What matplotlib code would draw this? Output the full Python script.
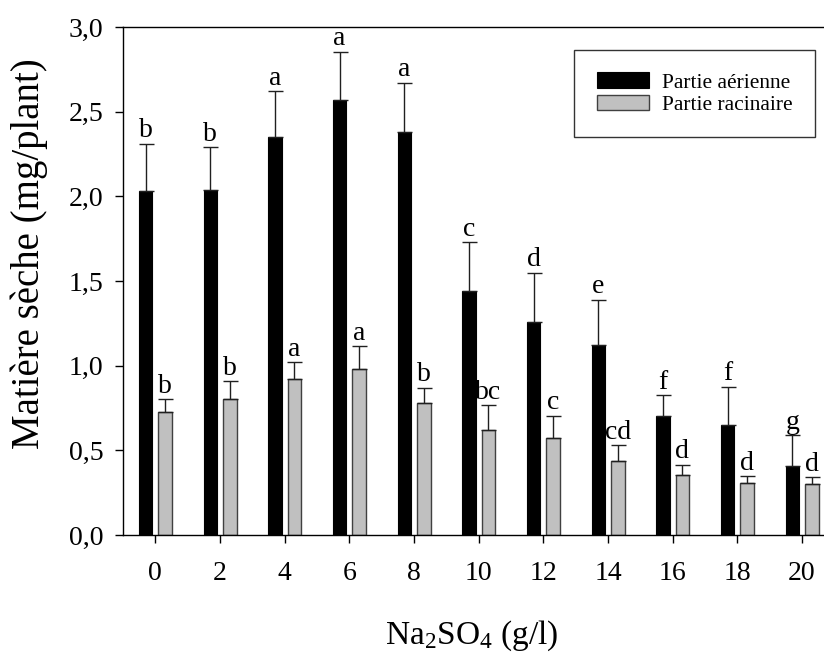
import matplotlib
matplotlib.use('Agg')
import matplotlib.pyplot as plt
import numpy as np

# Na2SO4 concentration (g/l)
conc = [0, 2, 4, 6, 8, 10, 12, 14, 16, 18, 20]

# dry matter (mg/plant), mean and upper error
aerienne = [2.03, 2.04, 2.35, 2.57, 2.38, 1.44, 1.26, 1.12, 0.70, 0.65, 0.41]
aerienne_err = [0.28, 0.25, 0.27, 0.285, 0.29, 0.29, 0.29, 0.27, 0.125, 0.225, 0.18]
racinaire = [0.725, 0.805, 0.92, 0.98, 0.78, 0.62, 0.575, 0.435, 0.355, 0.31, 0.30]
racinaire_err = [0.078, 0.105, 0.10, 0.135, 0.09, 0.145, 0.13, 0.097, 0.06, 0.036, 0.041]

# significance letters
lettres_aer = ['b', 'b', 'a', 'a', 'a', 'c', 'd', 'e', 'f', 'f', 'g']
lettres_rac = ['b', 'b', 'a', 'a', 'b', 'bc', 'c', 'cd', 'd', 'd', 'd']

plt.rcParams['font.family'] = ['Liberation Serif', 'DejaVu Serif']
plt.rcParams['mathtext.fontset'] = 'custom'
plt.rcParams['mathtext.rm'] = 'Liberation Serif'
plt.rcParams['mathtext.it'] = 'Liberation Serif:italic'

fig = plt.figure(figsize=(8.24, 6.52), dpi=100)
ax = fig.add_axes([0.1493, 0.1794, 0.8507, 0.7792])

x = np.array(conc, dtype=float)
w = 0.42
off = 0.30

ax.bar(x - off, aerienne, width=w, color='black', edgecolor='black',
       linewidth=0.8, label='Partie aérienne', zorder=2)
ax.bar(x + off, racinaire, width=w, color='#c0c0c0', edgecolor='#404040',
       linewidth=1.0, label='Partie racinaire', zorder=2)

# upper error bars only
ax.errorbar(x - off, aerienne, yerr=[np.zeros(len(x)), aerienne_err],
            fmt='none', ecolor='#202020', elinewidth=1.0, capsize=5.4,
            capthick=1.0, zorder=3)
ax.errorbar(x + off, racinaire, yerr=[np.zeros(len(x)), racinaire_err],
            fmt='none', ecolor='#202020', elinewidth=1.0, capsize=5.4,
            capthick=1.0, zorder=3)

for xi, m, e, l in zip(x, aerienne, aerienne_err, lettres_aer):
    ax.annotate(l, (xi - off, m + e), xytext=(0, 0.3), textcoords='offset points',
                ha='center', va='bottom', fontsize=20)
for xi, m, e, l in zip(x, racinaire, racinaire_err, lettres_rac):
    ax.annotate(l, (xi + off, m + e), xytext=(0, 0.3), textcoords='offset points',
                ha='center', va='bottom', fontsize=20)

ax.set_xlim(-1, 20.68)
ax.set_ylim(0, 3.0)
ax.set_xticks(conc)
ax.set_xticklabels([str(c) for c in conc])
ax.set_yticks(np.arange(0, 3.01, 0.5))
ax.set_yticklabels([f'{v:.1f}'.replace('.', ',') for v in np.arange(0, 3.01, 0.5)])

ax.spines['right'].set_visible(False)
for s in ['left', 'top', 'bottom']:
    ax.spines[s].set_linewidth(1.0)
ax.tick_params(axis='both', direction='out', length=6, width=1.0, labelsize=20)
ax.tick_params(axis='x', pad=13)
ax.tick_params(axis='y', pad=8)

ax.set_ylabel('Matière sèche (mg/plant)', fontsize=28)
ax.yaxis.set_label_coords(-0.107, 0.553)
ax.set_xlabel(r'Na$_2$SO$_4$ (g/l)', fontsize=24)
ax.xaxis.set_label_coords(0.497, -0.165)

leg = ax.legend(loc='upper right', bbox_to_anchor=(0.987, 0.955), fontsize=15.5,
                frameon=True, fancybox=False, edgecolor='black',
                handlelength=2.4, handleheight=0.7, borderpad=1.05,
                labelspacing=0.1, handletextpad=0.6, borderaxespad=0)
leg.get_frame().set_linewidth(1.0)

fig.savefig('out.png', dpi=100)
